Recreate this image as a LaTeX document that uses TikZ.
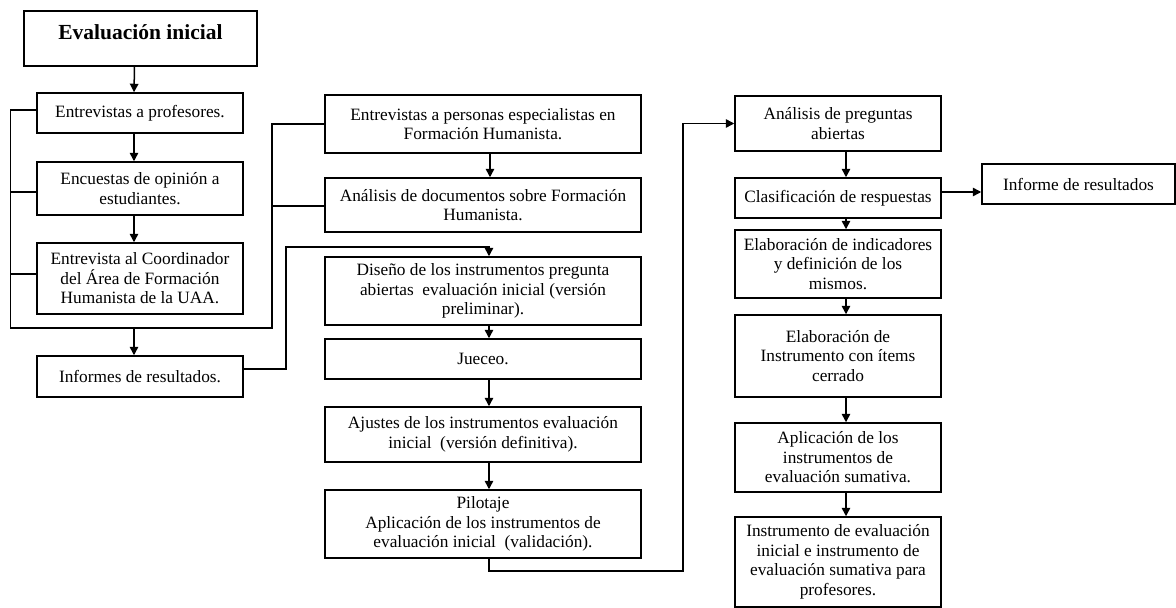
\documentclass[tikz,border=0pt]{standalone}
\usepackage{fontspec}
\setmainfont{Liberation Serif}
\usetikzlibrary{arrows.meta,positioning}

\begin{document}
\begin{tikzpicture}[
		x=1pt,y=-1pt,
		>={Triangle[length=8.5pt,width=8.5pt]},
		line width=1.5pt,
		box/.style={
			draw=black,
			line width=1.5pt,
			fill=white,
			rectangle,
			align=center,
			inner sep=2pt,
			font=\fontsize{17.3}{19.5}\selectfont
		},
		wide/.style={box,minimum width=316pt},
		narrow/.style={box,minimum width=206pt}
		]
		\useasboundingbox (0,0) rectangle (1176,608);
		
		% First column
		\node[box, minimum width=233pt, minimum height=55pt, inner ysep=0pt,
		text height=28pt, text depth=27pt,
		font=\bfseries\fontsize{21.5}{24}\selectfont] (eval) at (140.5,38.5) {Evaluación inicial};
		\node[narrow, minimum height=40pt] (entprof) at (140,113) {Entrevistas a profesores.};
		\node[narrow, minimum height=53pt] (encuestas) at (140,188.5) {Encuestas de opinión a\\estudiantes.};
		\node[narrow, minimum height=71pt] (coord) at (140,278.5) {Entrevista al Coordinador\\del Área de Formación\\Humanista de la UAA.};
		\node[narrow, minimum height=41pt] (informes) at (140,376.5) {Informes de resultados.};
		
		% Second column
		\node[wide, minimum height=58pt] (especial) at (483,124) {Entrevistas a personas especialistas en\\Formación Humanista.};
		\node[wide, minimum height=54pt] (documentos) at (483,205) {Análisis de documentos sobre Formación\\Humanista.};
		\node[wide, minimum height=68pt] (diseno) at (483,291) {Diseño de los instrumentos pregunta\\abiertas\ \ evaluación inicial (versión\\preliminar).};
		\node[wide, minimum height=40pt] (jueceo) at (483,359) {Jueceo.};
		\node[wide, minimum height=55pt] (ajustes) at (483,434.5) {Ajustes de los instrumentos evaluación\\inicial\ \ (versión definitiva).};
		\node[wide, minimum height=68pt] (pilotaje) at (483,524) {Pilotaje\\Aplicación de los instrumentos de\\evaluación inicial\ \ (validación).};
		
		% Third column
		\node[narrow, minimum height=55pt] (preguntas) at (838,123.5) {Análisis de preguntas\\abiertas};
		\node[narrow, minimum height=40pt] (clasif) at (838,198) {Clasificación de respuestas};
		\node[box, minimum width=193pt, minimum height=40pt] (informe) at (1078.5,184) {Informe de resultados};
		\node[narrow, minimum height=68pt] (indicadores) at (838,264) {Elaboración de indicadores\\y definición de los\\mismos.};
		\node[narrow, minimum height=82pt] (instrumento) at (838,356) {Elaboración de\\Instrumento con ítems\\cerrado};
		\node[narrow, minimum height=69pt] (aplicacion) at (838,457.5) {Aplicación de los\\instrumentos de\\evaluación sumativa.};
		\node[narrow, minimum height=90pt] (final) at (838,562) {Instrumento de evaluación\\inicial e instrumento de\\evaluación sumativa para\\profesores.};
		
		% Arrows of the first column
		\draw[->] ([xshift=-6pt]eval.south) -- ([xshift=-6pt]entprof.north);
		\draw[->] ([xshift=-6pt]entprof.south) -- ([xshift=-6pt]encuestas.north);
		\draw[->] ([xshift=-6pt]encuestas.south) -- ([xshift=-6pt]coord.north);
		
		% Bracket joining the interviews
		\draw ([yshift=3pt]entprof.west) -- ++(-26,0) |- (272,328) |- (especial.west);
		\draw ([yshift=-3.5pt]encuestas.west) -- ++(-26,0);
		\draw ([yshift=4.5pt]coord.west) -- ++(-26,0);
		\draw ([yshift=-1pt]documentos.west) -- ++(-53,0);
		\coordinate (grpA) at (134,328);
		\draw[->] (grpA) -- ([xshift=-6pt]informes.north);
		
		% Reports go to the design
		\draw[->] ([yshift=7.5pt]informes.east) -- ++(42,0) |- (489,247) -- ([xshift=6pt]diseno.north);
		
		% Arrows of the second column
		\draw[->] ([xshift=7pt]especial.south) -- ([xshift=7pt]documentos.north);
		\draw[->] ([xshift=6pt]diseno.south) -- ([xshift=6pt]jueceo.north);
		\draw[->] ([xshift=6pt]jueceo.south) -- ([xshift=6pt]ajustes.north);
		\draw[->] ([xshift=6pt]ajustes.south) -- ([xshift=6pt]pilotaje.north);
		
		% Pilot goes to the analysis
		\draw[->] ([xshift=6pt]pilotaje.south) |- (683,571) |- (preguntas.west);
		
		% Arrows of the third column
		\draw[->] ([xshift=8pt]preguntas.south) -- ([xshift=8pt]clasif.north);
		\draw[->] ([yshift=6pt]clasif.east) -- ([yshift=6pt]clasif.east -| informe.west);
		\draw[->] ([xshift=8pt]clasif.south) -- ([xshift=8pt]indicadores.north);
		\draw[->] ([xshift=8pt]indicadores.south) -- ([xshift=8pt]instrumento.north);
		\draw[->] ([xshift=8pt]instrumento.south) -- ([xshift=8pt]aplicacion.north);
		\draw[->] ([xshift=8pt]aplicacion.south) -- ([xshift=8pt]final.north);
	\end{tikzpicture}
\end{document}
